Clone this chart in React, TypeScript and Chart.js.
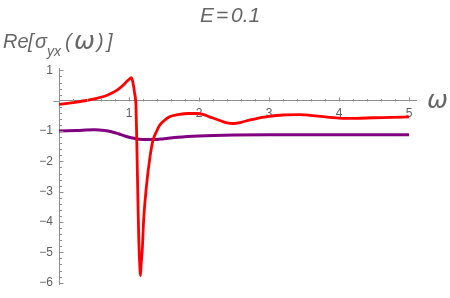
import React, { useEffect, useRef } from 'react';
import { Chart, registerables } from 'chart.js';

Chart.register(...registerables);

// ---- data ----
const redX = [0, 0.2, 0.37, 0.5, 0.65, 0.75, 0.84, 0.92, 0.97, 1.01, 1.035, 1.06, 1.08, 1.1, 1.11, 1.125, 1.14, 1.155, 1.163, 1.175, 1.19, 1.21, 1.25, 1.3, 1.34, 1.4, 1.44, 1.5, 1.58, 1.7, 1.85, 1.96, 2.07, 2.15, 2.25, 2.34, 2.42, 2.49, 2.6, 2.72, 2.85, 2.96, 3.2, 3.44, 3.7, 4.0, 4.25, 4.5, 4.75, 5.0];
const redY = [-0.12, -0.06, 0, 0.06, 0.15, 0.25, 0.37, 0.52, 0.64, 0.72, 0.76, 0.55, 0.25, -0.2, -1.2, -3.0, -4.6, -5.5, -5.77, -5.35, -4.9, -3.9, -2.8, -1.85, -1.33, -0.98, -0.8, -0.66, -0.53, -0.46, -0.42, -0.42, -0.46, -0.53, -0.61, -0.69, -0.74, -0.75, -0.71, -0.64, -0.57, -0.53, -0.47, -0.46, -0.51, -0.57, -0.58, -0.56, -0.55, -0.53];

const purpleX = [0, 0.25, 0.5, 0.65, 0.75, 0.85, 0.95, 1.05, 1.15, 1.25, 1.35, 1.5, 1.7, 2.0, 2.5, 3.0, 4.0, 5.0];
const purpleY = [-1.0, -0.98, -0.96, -0.98, -1.02, -1.09, -1.17, -1.23, -1.27, -1.28, -1.28, -1.25, -1.2, -1.16, -1.13, -1.12, -1.12, -1.12];

const xStep = 1;
const yStep = 1;
const minorStep = 0.2;
const xMin = 0;
const xMax = 5.1;
const yMin = -6.07;
const yMax = 1.08;

const titleParts = ['E', '=', '0.1'];
const yLabelParts = ['Re', '[', 'σ', 'yx', '(', 'ω', ')', ']'];
const xAxisLabel = 'ω';

const axisColor = '#8f8f8f';
const labelColor = '#5e5e5e';
const textColor = '#666666';
const redColor = '#ff0000';
const purpleColor = '#800080';
const fontFamily = '"Liberation Sans", Arial, sans-serif';

const minus = (v: number) => (v < 0 ? '\u2212' + String(-v) : String(v));

const decorPlugin = {
  id: 'decor',
  afterDraw(chart: any) {
    const { ctx, scales } = chart;
    const xs = scales.x;
    const ys = scales.y;
    const y0 = Math.round(ys.getPixelForValue(0)) + 0.5;
    const x0 = Math.round(xs.getPixelForValue(0)) + 0.5;
    ctx.save();
    ctx.strokeStyle = axisColor;
    ctx.lineWidth = 1;
    // x-axis overhang left of the y axis
    ctx.beginPath();
    ctx.moveTo(x0 - 6, y0);
    ctx.lineTo(x0, y0);
    ctx.stroke();
    // x ticks (pointing up)
    for (let i = 1; i * minorStep <= xMax + 1e-9; i++) {
      const v = i * minorStep;
      const px = Math.round(xs.getPixelForValue(v)) + 0.5;
      const major = i % 5 === 0;
      ctx.beginPath();
      ctx.moveTo(px, y0);
      ctx.lineTo(px, y0 - (major ? 4 : 2.5));
      ctx.stroke();
    }
    // y ticks (pointing right)
    const nLo = Math.ceil(yMin / minorStep);
    const nHi = Math.floor(yMax / minorStep);
    for (let i = nLo; i <= nHi; i++) {
      if (i === 0) continue;
      const v = i * minorStep;
      const py = Math.round(ys.getPixelForValue(v)) + 0.5;
      const major = i % 5 === 0;
      ctx.beginPath();
      ctx.moveTo(x0, py);
      ctx.lineTo(x0 + (major ? 4 : 2.5), py);
      ctx.stroke();
    }
    // title
    ctx.fillStyle = textColor;
    ctx.textBaseline = 'alphabetic';
    ctx.textAlign = 'left';
    const tFont = `italic 21px ${fontFamily}`;
    ctx.font = tFont;
    const titleLayout: [string, number][] = [
      [titleParts[0], 200],
      [titleParts[1], 216],
      [titleParts[2], 231],
    ];
    for (const [t, x] of titleLayout) ctx.fillText(t, x, 22);
    // y label
    const main = `italic 20px ${fontFamily}`;
    const sub = `italic 14px ${fontFamily}`;
    const omegaFont = `oblique 25px "DejaVu Sans", sans-serif`;
    const layout: [string, number, string, number][] = [
      [yLabelParts[0], 3, main, 48],
      [yLabelParts[1], 28, main, 48],
      [yLabelParts[2], 35, main, 48],
      [yLabelParts[3], 47, sub, 56],
      [yLabelParts[4], 65, main, 48],
      [yLabelParts[5], 74, omegaFont, 49],
      [yLabelParts[6], 97, main, 48],
      [yLabelParts[7], 107, main, 48],
    ];
    for (const [t, x, f, by] of layout) {
      ctx.font = f;
      ctx.fillText(t, x, by);
    }
    // x axis label
    ctx.font = omegaFont;
    ctx.fillText(xAxisLabel, 427, 108);
    ctx.restore();
  },
};

export default function App() {
  const ref = useRef<HTMLCanvasElement | null>(null);
  useEffect(() => {
    if (!ref.current) return;
    const chart = new Chart(ref.current, {
      type: 'line',
      data: {
        datasets: [
          {
            data: redX.map((x, i) => ({ x, y: redY[i] })),
            borderColor: redColor,
            borderWidth: 2.8,
            pointRadius: 0,
            fill: false,
            cubicInterpolationMode: 'monotone',
          },
          {
            data: purpleX.map((x, i) => ({ x, y: purpleY[i] })),
            borderColor: purpleColor,
            borderWidth: 3,
            pointRadius: 0,
            fill: false,
            cubicInterpolationMode: 'monotone',
          },
        ],
      },
      options: {
        animation: false,
        responsive: false,
        maintainAspectRatio: false,
        layout: { padding: { left: 0, right: 34, top: 68, bottom: 7 } },
        plugins: {
          legend: { display: false },
          tooltip: { enabled: false },
          title: { display: false },
        },
        scales: {
          x: {
            type: 'linear',
            min: xMin,
            max: xMax,
            position: { y: 0 },
            grid: { display: false, drawTicks: false },
            border: { display: true, color: axisColor, width: 1 },
            ticks: {
              stepSize: xStep,
              includeBounds: false,
              autoSkip: false,
              maxRotation: 0,
              padding: 6,
              color: labelColor,
              font: { family: fontFamily, size: 12 },
              callback: (v: any) => (v === 0 ? '' : minus(v)),
            },
            afterFit: (s: any) => {
              s.height = 0;
            },
          },
          y: {
            type: 'linear',
            min: yMin,
            max: yMax,
            position: 'left',
            grid: { display: false, drawTicks: false },
            border: { display: true, color: axisColor, width: 1 },
            ticks: {
              stepSize: yStep,
              includeBounds: false,
              autoSkip: false,
              padding: 6,
              color: labelColor,
              font: { family: fontFamily, size: 12 },
              callback: (v: any) => (v === 0 ? '' : minus(v)),
            },
            afterFit: (s: any) => {
              s.width = 59;
            },
          },
        },
      } as any,
      plugins: [decorPlugin],
    });
    return () => chart.destroy();
  }, []);
  return (
    <div style={{ position: 'absolute', left: 0, top: 0, width: 450, height: 298, background: '#fff' }}>
      <canvas ref={ref} width={450} height={298} style={{ display: 'block' }} />
    </div>
  );
}
